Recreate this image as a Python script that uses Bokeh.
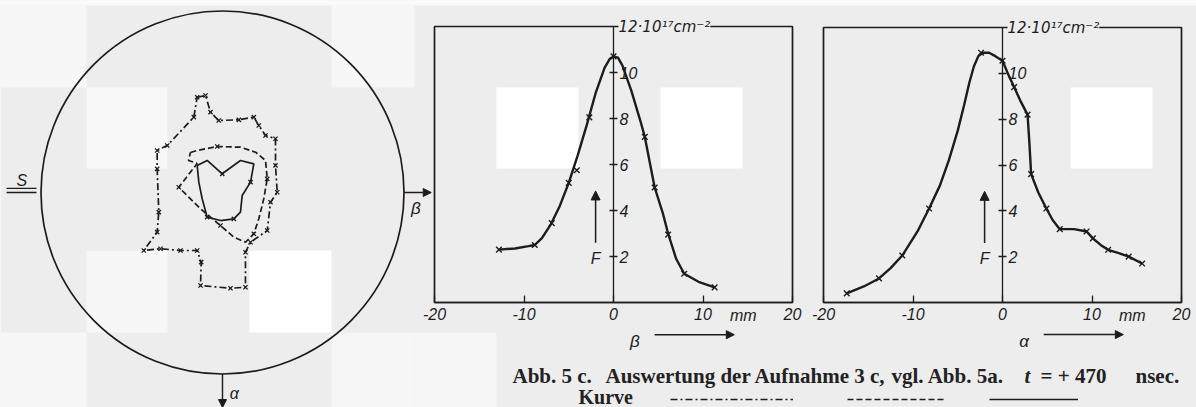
from bokeh.plotting import figure
from bokeh.models import (Range1d, LinearAxis, FixedTicker, Label, Arrow,
                          NormalHead, BoxAnnotation, Legend, LegendItem)
from bokeh.embed import file_html
from bokeh.resources import INLINE
from bokeh.core.properties import value

# ---------------- data ----------------
# middle panel: F(beta), 10^17 cm^-2 vs beta in mm
beta_curve_x = [-12.8, -11.0, -9.5, -8.8, -8.0, -7.0, -6.0, -5.0, -4.0, -3.0, -2.0, -1.0,
                -0.4, 0.0, 0.5, 1.0, 2.0, 3.0, 3.5, 4.6, 5.5, 6.1, 7.0, 7.9, 9.5, 11.3]
beta_curve_f = [2.3, 2.35, 2.45, 2.5, 2.8, 3.4, 4.2, 5.2, 6.4, 7.7, 9.1, 10.2,
                10.6, 10.7, 10.65, 10.3, 9.2, 7.9, 7.2, 5.0, 3.9, 3.0, 1.9, 1.25, 0.9, 0.66]
beta_pts_x = [-12.8, -8.8, -6.9, -5.0, -4.1, -2.7, 0.0, 3.5, 4.6, 6.1, 7.9, 11.3]
beta_pts_f = [2.3, 2.5, 3.45, 5.2, 5.75, 8.05, 10.7, 7.2, 5.0, 2.95, 1.25, 0.66]

# right panel: F(alpha)
alpha_curve_x = [-17.4, -15.5, -13.8, -12.5, -11.2, -9.5, -8.2, -7.0, -6.0, -5.0, -4.3, -3.7,
                 -3.2, -2.7, -2.2, -1.5, -0.8, 0.0, 0.7, 1.3, 2.0, 2.8, 3.0, 3.2, 4.0, 4.9,
                 5.6, 6.4, 8.0, 9.4, 10.1, 11.0, 11.8, 13.0, 14.1, 15.6]
alpha_curve_f = [0.4, 0.7, 1.05, 1.5, 2.05, 3.1, 4.1, 5.1, 6.2, 7.5, 8.6, 9.6,
                 10.3, 10.75, 10.9, 10.9, 10.75, 10.55, 9.9, 9.4, 8.8, 8.2, 7.0, 5.6, 4.8, 4.1,
                 3.6, 3.2, 3.2, 3.1, 2.8, 2.5, 2.3, 2.15, 2.0, 1.7]
alpha_pts_x = [-17.4, -13.8, -11.2, -8.2, -2.4, 0.0, 1.3, 2.8, 3.2, 4.9, 6.4, 9.4, 10.1, 11.8, 14.1, 15.6]
alpha_pts_f = [0.4, 1.05, 2.05, 4.1, 10.9, 10.55, 9.4, 8.2, 5.6, 4.1, 3.2, 3.1, 2.8, 2.3, 2.0, 1.7]

x_ticks = [-20, -10, 0, 10, 20]
x_tick_labels = ["-20", "-10", "0", "10", "20"]
f_ticks = [2, 4, 6, 8, 10]
f_top = 12
f_unit_label = "12·10¹⁷cm⁻²"
x_unit_label = "mm"

# left panel: cross-section of the tube (beta to the right, alpha downward), mm
tube_radius = [20.0]
outer_beta = [-2.79, -1.87, -1.32, -0.41, 1.80, 3.45, 4.00, 4.74, 5.84, 5.84, 6.03, 5.29, 4.93,
              3.09, 2.53, 2.53, 0.88, -2.42, -2.35, -2.79, -4.63, -6.83, -8.67, -7.20, -7.02,
              -7.20, -7.20, -6.09, -3.16]
outer_alpha = [-10.50, -10.69, -8.85, -7.93, -8.01, -8.30, -7.38, -6.28, -5.92, -2.98, -0.03, 1.07,
               4.19, 5.48, 6.58, 10.44, 10.55, 10.25, 7.68, 6.39, 6.39, 6.20, 6.39, 4.37, 2.17,
               -2.61, -4.63, -5.18, -8.30]
middle_beta = [-3.53, -2.79, -0.58, 1.98, 3.64, 4.74, 4.93, 4.55, 4.00, 3.45, 2.53, 1.25, -0.22,
               -2.42, -4.82, -2.79, -3.75]
middle_alpha = [-4.41, -4.63, -5.07, -4.99, -4.44, -3.53, -1.51, 0.69, 2.90, 4.55, 5.48, 4.93, 3.64,
                1.80, -0.58, -3.20, -3.53]
inner_beta = [-2.79, -1.69, -0.03, 1.98, 3.45, 3.09, 2.17, 1.98, 1.25, -0.22, -1.69, -2.24, -2.61]
inner_alpha = [-2.98, -3.53, -2.06, -3.53, -3.16, -1.14, 0.33, 2.17, 2.90, 3.09, 2.72, 0.69, -1.14]
mid_mark_idx = [2, 6, 9, 12, 14]
inner_mark_idx = [2, 5, 8, 10]

caption_parts = ["Abb. 5 c.", "Auswertung der Aufnahme 3 c,", "vgl. Abb. 5a.", "t", "= + 470", "nsec."]
caption_2 = "Kurve"

# ---------------- style / layout ----------------
W, H = 1196, 407
INK = "#1c1c1c"
BG = "#ededed"
SANS = "Liberation Sans"
SERIF = "Liberation Serif"


def rng(v0, p0, v1, p1, lo_px, hi_px):
    k = (v1 - v0) / (p1 - p0)
    return Range1d(start=v0 + (lo_px - p0) * k, end=v0 + (hi_px - p0) * k)


p = figure(width=W, height=H, x_range=Range1d(0, W), y_range=Range1d(H, 0),
           output_backend="svg", toolbar_location=None, min_border=0,
           x_axis_type=None, y_axis_type=None, outline_line_color=None,
           background_fill_color=BG, border_fill_color=BG)
p.grid.visible = False

s_left = 9.075
p.extra_x_ranges = {
    "mx": rng(-20, 434, 20, 792, 0, W),
    "rx": rng(-20, 823, 20, 1181, 0, W),
    "lx": rng(0, 222, 20, 222 + 20 * s_left, 0, W),
}
p.extra_y_ranges = {
    "my": rng(0, 302, 12, 26, H, 0),
    "ry": rng(0, 302, 12, 27, H, 0),
    "ly": rng(0, 192, 20, 192 + 20 * s_left, H, 0),
}

# background scan blocks
XE = [0, 86, 167, 249, 331, 414, 496, 578, 660, 742, 824, 906, 988, 1070, 1152, 1196]
YE = [5, 87, 168, 250, 332, 407]
p.add_layout(BoxAnnotation(left=0, right=W, top=0, bottom=5, fill_color="#fafafa",
                           fill_alpha=1, line_color=None, level="underlay"))
blocks = {(1, 6): "#ffffff", (1, 8): "#ffffff", (1, 13): "#ffffff", (3, 3): "#ffffff",
          (0, 0): "#f7f7f7", (0, 4): "#f7f7f7", (1, 1): "#f8f8f8", (3, 1): "#f7f7f7",
          (4, 0): "#f7f7f7", (4, 4): "#f6f6f6", (4, 5): "#f6f6f6"}
for (r, c), col in blocks.items():
    p.add_layout(BoxAnnotation(left=XE[c], right=XE[c + 1], top=YE[r], bottom=YE[r + 1],
                               fill_color=col, fill_alpha=1, line_color=None, level="underlay"))


def panel(xr, yr, cx, cf, px, pf, letter):
    p.quad(left=[x_ticks[0]], right=[x_ticks[-1]], bottom=[0], top=[f_top], fill_color=None,
           line_color=INK, line_width=1.7, x_range_name=xr, y_range_name=yr)
    xa = LinearAxis(x_range_name=xr, y_range_name=yr, fixed_location=0,
                    bounds=(x_ticks[0], x_ticks[-1]),
                    ticker=FixedTicker(ticks=x_ticks, minor_ticks=[]),
                    major_label_overrides={t: s for t, s in zip(x_ticks, x_tick_labels)},
                    major_tick_in=7, major_tick_out=0, minor_tick_in=0, minor_tick_out=0,
                    axis_line_color=INK, axis_line_width=1.7, major_tick_line_color=INK,
                    major_tick_line_width=1.3, major_label_standoff=5,
                    major_label_text_font=SANS, major_label_text_font_style="italic",
                    major_label_text_font_size="16px", major_label_text_color=INK)
    p.add_layout(xa, "below")
    ya = LinearAxis(x_range_name=xr, y_range_name=yr, fixed_location=0, bounds=(0, f_top),
                    ticker=FixedTicker(ticks=f_ticks, minor_ticks=[]),
                    major_tick_in=4, major_tick_out=4, minor_tick_in=0, minor_tick_out=0,
                    axis_line_color=INK, axis_line_width=1.3, major_tick_line_color=INK,
                    major_tick_line_width=1.3, major_label_standoff=2,
                    major_label_text_font=SANS, major_label_text_font_style="italic",
                    major_label_text_font_size="16px", major_label_text_color=INK)
    p.add_layout(ya, "right")
    p.add_layout(Label(x=0, y=f_top, x_range_name=xr, y_range_name=yr, text=f_unit_label,
                       x_offset=5, text_baseline="middle", text_font="DejaVu Sans",
                       text_font_style="italic", text_font_size="15px", text_color=INK,
                       background_fill_color=BG))
    p.add_layout(Label(x=14.5, y=0, x_range_name=xr, y_range_name=yr, text=x_unit_label,
                       y_offset=-13, text_align="center", text_baseline="middle",
                       text_font=SANS, text_font_style="italic", text_font_size="16px",
                       text_color=INK))
    p.line(cx, cf, line_color=INK, line_width=2.4, x_range_name=xr, y_range_name=yr)
    p.scatter(px, pf, marker="x", size=8, line_color=INK, line_width=1.4,
              x_range_name=xr, y_range_name=yr)
    # F arrow
    p.add_layout(Arrow(x_start=-2.0, y_start=2.6, x_end=-2.0, y_end=4.85,
                       x_range_name=xr, y_range_name=yr, line_color=INK, line_width=1.5,
                       end=NormalHead(size=9, fill_color=INK, line_color=INK)))
    p.add_layout(Label(x=-2.0, y=1.9, x_range_name=xr, y_range_name=yr, text="F",
                       text_align="center", text_baseline="middle", text_font=SANS,
                       text_font_style="italic", text_font_size="16px", text_color=INK))
    # axis-direction arrow below
    p.add_layout(Arrow(x_start=4.6, y_start=-1.4, x_end=13.5, y_end=-1.4,
                       x_range_name=xr, y_range_name=yr, line_color=INK, line_width=1.5,
                       end=NormalHead(size=8, fill_color=INK, line_color=INK)))
    p.add_layout(Label(x=2.4, y=-1.7, x_range_name=xr, y_range_name=yr, text=letter,
                       text_align="center", text_baseline="middle", text_font=SANS,
                       text_font_style="italic", text_font_size="17px", text_color=INK))


panel("mx", "my", beta_curve_x, beta_curve_f, beta_pts_x, beta_pts_f, "β")
panel("rx", "ry", alpha_curve_x, alpha_curve_f, alpha_pts_x, alpha_pts_f, "α")

# ---------- left panel ----------
p.circle(x=[0], y=[0], radius=tube_radius[0], fill_color=None, line_color=INK, line_width=1.7,
         x_range_name="lx", y_range_name="ly")
r_outer = p.line(outer_beta + outer_beta[:1], outer_alpha + outer_alpha[:1], line_color=INK,
                 line_width=1.7, line_dash="7 3 2 3", x_range_name="lx", y_range_name="ly")
r_mid = p.line(middle_beta + middle_beta[:1], middle_alpha + middle_alpha[:1], line_color=INK,
               line_width=1.7, line_dash="6 3", x_range_name="lx", y_range_name="ly")
r_inner = p.line(inner_beta + inner_beta[:1], inner_alpha + inner_alpha[:1], line_color=INK,
                 line_width=1.7, x_range_name="lx", y_range_name="ly")
p.scatter(outer_beta, outer_alpha, marker="x", size=6, line_color=INK, line_width=1.3,
          x_range_name="lx", y_range_name="ly")
p.scatter([middle_beta[i] for i in mid_mark_idx], [middle_alpha[i] for i in mid_mark_idx],
          marker="x", size=6, line_color=INK, line_width=1.3, x_range_name="lx", y_range_name="ly")
p.scatter([inner_beta[i] for i in inner_mark_idx], [inner_alpha[i] for i in inner_mark_idx],
          marker="x", size=6, line_color=INK, line_width=1.3, x_range_name="lx", y_range_name="ly")

R = tube_radius[0]
p.add_layout(Arrow(x_start=R, y_start=0, x_end=R + 3.0, y_end=0, x_range_name="lx",
                   y_range_name="ly", line_color=INK, line_width=1.4,
                   end=NormalHead(size=8, fill_color=INK, line_color=INK)))
p.add_layout(Label(x=R + 1.3, y=1.8, x_range_name="lx", y_range_name="ly", text="β",
                   text_align="center", text_baseline="middle", text_font=SANS,
                   text_font_style="italic", text_font_size="17px", text_color=INK))
p.add_layout(Arrow(x_start=0, y_start=R, x_end=0, y_end=R + 3.7, x_range_name="lx",
                   y_range_name="ly", line_color=INK, line_width=1.4,
                   end=NormalHead(size=8, fill_color=INK, line_color=INK)))
p.add_layout(Label(x=1.3, y=R + 2.1, x_range_name="lx", y_range_name="ly", text="α",
                   text_align="center", text_baseline="middle", text_font=SANS,
                   text_font_style="italic", text_font_size="16px", text_color=INK))
p.add_layout(Label(x=-22.1, y=-1.3, x_range_name="lx", y_range_name="ly", text="S",
                   text_align="center", text_baseline="middle", text_font=SANS,
                   text_font_style="italic", text_font_size="16px", text_color=INK))
for yy in (-0.45, 0.0):
    p.add_layout(Arrow(x_start=-23.8, y_start=yy, x_end=-20.5, y_end=yy, end=None,
                       x_range_name="lx", y_range_name="ly", line_color=INK, line_width=1.4))

# ---------- caption ----------
cap_x = [512, 605, 891, 1024, 1040, 1135]
cap_style = ["bold", "bold", "bold", "bold italic", "bold", "bold"]
for txt, x0, st in zip(caption_parts, cap_x, cap_style):
    p.add_layout(Label(x=x0, y=375, text=txt, text_baseline="middle", text_font=SERIF,
                       text_font_style=st, text_font_size="21px", text_color="#222222"))
p.add_layout(Label(x=578, y=396, text=caption_2, text_baseline="middle", text_font=SERIF,
                   text_font_style="bold", text_font_size="20px", text_color="#222222"))
for r, x0, gw in ((r_outer, 670, 123), (r_mid, 847, 97), (r_inner, 989, 89)):
    leg = Legend(items=[LegendItem(label=value(" "), renderers=[r])], location=(x0, 5),
                 glyph_width=gw, glyph_height=6, label_standoff=0, label_width=0,
                 label_height=0, label_text_font_size="1px", padding=0, spacing=0, margin=0,
                 border_line_color=None, background_fill_alpha=0)
    p.add_layout(leg)

open("out.html", "w").write(file_html(p, INLINE))
